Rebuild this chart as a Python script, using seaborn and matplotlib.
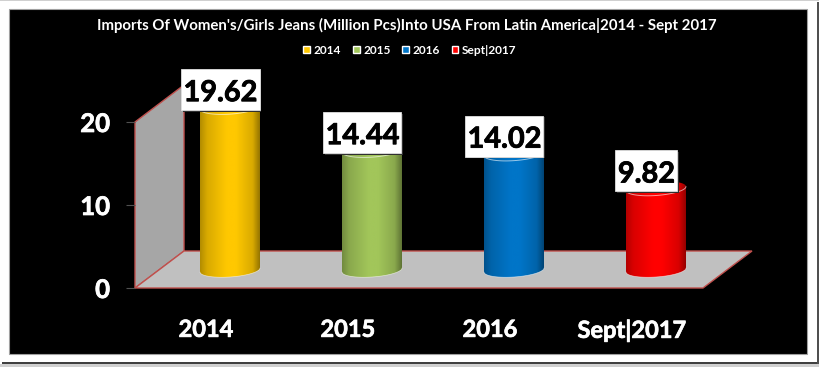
import matplotlib
matplotlib.use("Agg")
import matplotlib.pyplot as plt
import matplotlib.patheffects as pe
import numpy as np
import pandas as pd
import seaborn as sns
from matplotlib.patches import Polygon, Rectangle, PathPatch
from matplotlib.path import Path
from matplotlib.colors import to_rgb
from matplotlib.transforms import IdentityTransform

# data
categories = ['2014', '2015', '2016', 'Sept|2017']
values = [19.62, 14.44, 14.02, 9.82]
colors = ['#FFC800', '#A2C65A', '#0075C8', '#FF0000']
y_ticks = [0, 10, 20]
title = "Imports Of Women's/Girls Jeans (Million Pcs)Into USA From Latin America|2014 - Sept 2017"

W, H = 820, 367
sns.set_theme(style="white")
plt.rcParams['font.family'] = ['Lato', 'DejaVu Sans']
plt.rcParams['font.weight'] = 'bold'

fig = plt.figure(figsize=(W / 100, H / 100), dpi=100, facecolor='white')


def px(x, y):
    return (x / W, 1 - y / H)


def axes_at(left, top, right, bottom):
    return fig.add_axes([left / W, 1 - bottom / H, (right - left) / W, (bottom - top) / H])


def fig_poly(points, **kw):
    fig.add_artist(Polygon([px(*p) for p in points], closed=True, transform=fig.transFigure, **kw))


# picture frame and black panel
fig.add_artist(Rectangle(px(0, 367), 1, 3 / H, transform=fig.transFigure, fc='#D0D0D0', ec='none', zorder=-6))
fig.add_artist(Rectangle(px(2, 364), 816 / W, 2 / H, transform=fig.transFigure, fc='#404040', ec='none', zorder=-6))
fig.add_artist(Rectangle(px(817, 364), 2 / W, 362 / H, transform=fig.transFigure, fc='#505050', ec='none', zorder=-6))
fig.add_artist(Rectangle(px(0, 1), 820 / W, 1 / H, transform=fig.transFigure, fc='#D0D0D0', ec='none', zorder=-6))
fig.add_artist(Rectangle(px(9, 354), 798 / W, 345 / H, transform=fig.transFigure, fc='black', ec='#A0A0A0', lw=0.8, zorder=-5))

# fake 3d wall and floor
edge = '#C0504D'
fig_poly([(135, 288), (184, 251), (184, 85), (135, 122)], fc='#A6A6A6', ec=edge, lw=1, zorder=-3)
fig_poly([(135, 288), (184, 251), (752, 251), (703, 288)], fc='#C0C0C0', ec=edge, lw=1, zorder=-3)

# front plane: tick labels live here
ax_front = axes_at(135, 122, 703, 288)
ax_front.patch.set_alpha(0)
ax_front.set_xlim(-0.5, 3.5)
ax_front.set_ylim(0, 20)
ax_front.set_xticks(range(len(categories)), categories)
ax_front.set_yticks(y_ticks)
ax_front.tick_params(axis='x', length=0, pad=21.5, labelsize=17, labelcolor='white')
ax_front.tick_params(axis='y', left=True, length=6.5, width=0.8, color='#505050', pad=11.5, labelsize=18.5, labelcolor='white')
for lab in ax_front.get_xticklabels() + ax_front.get_yticklabels():
    lab.set_path_effects([pe.withStroke(linewidth=0.5, foreground='white')])
sns.despine(ax=ax_front, left=True, bottom=True)

# back plane: the cylinders stand here, 8.3 px per unit with zero at y=270
ax = axes_at(135, 62.5, 751, 294.9)
ax.patch.set_alpha(0)
df = pd.DataFrame({'cat': categories, 'val': values})
sns.barplot(data=df, x='cat', y='val', hue='cat', palette=colors, width=60 / 142,
            saturation=1, legend=True, ax=ax, zorder=2)
xlim = ((135 - 230) / 142, (751 - 230) / 142)
ylim = (-3, 25)
ax.set_xlim(xlim)
ax.set_ylim(ylim)
ax.axis('off')

a = 30 / 142
b = 7 / 8.3
k = 2 / 8.3
t_low = np.linspace(0, -np.pi, 60)


def arc(cx, cy, t):
    return np.column_stack([cx + a * np.cos(t), cy + b * np.sin(t) + k * np.cos(t)])


for i, (val, col) in enumerate(zip(values, colors)):
    rgb = np.array(to_rgb(col))
    u = np.linspace(0, 1, 256)
    shade = np.interp(u, [0, 0.12, 0.45, 0.6, 0.88, 1], [0.70, 0.85, 1, 1, 0.85, 0.58])
    grad = (shade[:, None] * rgb)[None, :, :]
    outline = np.vstack([arc(i, 0, t_low), arc(i, val, np.linspace(np.pi, 0, 60))])
    clip = Path(np.vstack([outline, outline[:1]]), closed=True)
    clip_patch = PathPatch(clip, transform=ax.transData, fc='none', ec='none')
    ax.add_patch(clip_patch)
    im = ax.imshow(grad, extent=(i - a, i + a, -b - k, val + b + k), aspect='auto', zorder=3, interpolation='bilinear')
    im.set_clip_path(clip_patch)
    ax.containers[i][0].set_clip_path(clip_patch)
    # rims
    low = arc(i, 0, t_low)
    ax.plot(low[:, 0], low[:, 1], color='white', lw=0.5, alpha=0.6, zorder=4)
    front = arc(i, val, np.linspace(np.pi, 2 * np.pi, 60))
    ax.plot(front[:, 0], front[:, 1], color='white', lw=0.7, alpha=0.6, zorder=4)

ax.set_xlim(xlim)
ax.set_ylim(ylim)

# value labels, white box with a small shadow over each cylinder top
for i, val in enumerate(values):
    text = f'{val:.2f}'
    box_w = 78 if len(text) == 5 else 62
    x0, y0 = ax.transData.transform((i, val))
    left = x0 - 9.5 - box_w / 2
    bottom = y0 - 3
    ax.add_patch(Rectangle((left + 1.5, bottom - 1.5), box_w, 41, transform=IdentityTransform(),
                           fc='#303030', ec='none', zorder=5, clip_on=False))
    ax.add_patch(Rectangle((left, bottom), box_w, 41, transform=IdentityTransform(),
                           fc='white', ec='#E0E0E0', lw=0.6, zorder=6, clip_on=False))
    ax.text(left + box_w / 2, bottom + 19.5, text, transform=IdentityTransform(), ha='center',
            va='center_baseline', fontsize=20.8, color='black', zorder=7, clip_on=False,
            path_effects=[pe.withStroke(linewidth=0.6, foreground='black')])

# legend and title
handles, labels = ax.get_legend_handles_labels()
ax.get_legend().remove()
fig.legend(handles, labels, ncol=4, loc='center', bbox_to_anchor=px(410, 50), frameon=False,
           fontsize=8.6, labelcolor='white', handlelength=0.55, handleheight=0.55, handletextpad=0.3,
           columnspacing=1.0)
fig.text(*px(407, 25), title, ha='center', va='center', color='white', fontsize=10.8)

fig.savefig('out.png', dpi=100, facecolor=fig.get_facecolor())
